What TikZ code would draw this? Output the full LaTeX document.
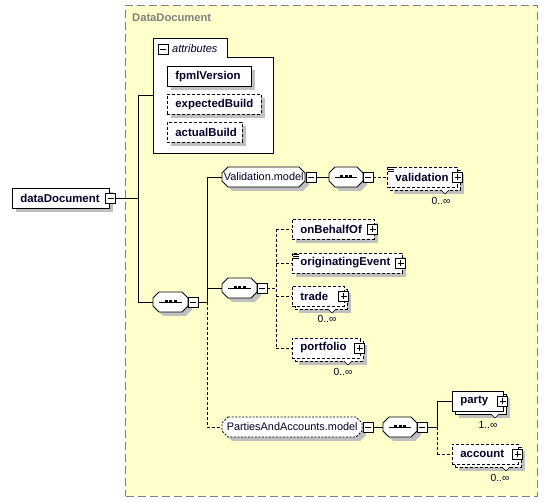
\documentclass[tikz,border=0pt]{standalone}
\usepackage{fontspec}
\setmainfont{Liberation Sans}
\usetikzlibrary{shadows}
\definecolor{grpfill}{RGB}{255,255,204}
\definecolor{grpline}{RGB}{128,128,128}
\definecolor{shd}{RGB}{192,192,192}
\definecolor{txt}{RGB}{0,0,40}
\newcommand\bx[2]{\makebox[#1][l]{#2}}
\newcommand\octo[5]{%
  \begin{scope}[shift={(4,4)}]
    \fill[shd] (#1+6,#2) -- (#3-6,#2) -- (#3,#2+6) -- (#3,#4-6) -- (#3-6,#4) -- (#1+6,#4) -- (#1,#4-6) -- (#1,#2+6) -- cycle;
  \end{scope}
  \draw[fill=white,line width=0.8pt,#5] (#1+6,#2) -- (#3-6,#2) -- (#3,#2+6) -- (#3,#4-6) -- (#3-6,#4) -- (#1+6,#4) -- (#1,#4-6) -- (#1,#2+6) -- cycle;}
\newcommand\seqicon[3]{%
  \draw[line width=0.8pt] (#1+6,#3) -- (#2-6,#3);
  \fill ({(#1+#2)/2-6},#3-1.5) rectangle +(3,3);
  \fill ({(#1+#2)/2-1.5},#3-1.5) rectangle +(3,3);
  \fill ({(#1+#2)/2+3},#3-1.5) rectangle +(3,3);}
\newcommand\simplemark[2]{%
  \foreach \d in {0,2,4} \draw[line width=0.6pt] (#1,#2+\d) -- (#1+6,#2+\d);}
\newcommand\notch[2]{%
  \draw[fill=white, line width=0.6pt] (#1-4,#2) -- (#1,#2+4) -- (#1+4,#2);}
\tikzset{
  conn/.style={line width=0.8pt},
  dconn/.style={line width=0.8pt, dash pattern=on 3pt off 2pt},
  box/.style={draw, line width=0.8pt, fill=white, minimum height=20pt, inner ysep=0pt, inner xsep=8pt, anchor=west, text=txt, font=\fontsize{11.4}{13}\selectfont\bfseries},
  optbox/.style={box, dash pattern=on 3pt off 2pt},
  shad/.style={drop shadow={shadow xshift=4pt, shadow yshift=-4pt, opacity=1, fill=shd}},
  plusb/.style={draw, fill=white, line width=0.9pt, minimum size=10pt, inner sep=0pt,
    path picture={\draw[line width=0.8pt] ([xshift=2pt]path picture bounding box.west) -- ([xshift=-2pt]path picture bounding box.east);
                  \draw[line width=0.8pt] ([yshift=-2pt]path picture bounding box.north) -- ([yshift=2pt]path picture bounding box.south);}},
  minusb/.style={draw, fill=white, line width=0.9pt, minimum size=10pt, inner sep=0pt,
    path picture={\draw[line width=0.8pt] ([xshift=2pt]path picture bounding box.west) -- ([xshift=-2pt]path picture bounding box.east);}},
  comp/.style={anchor=west, minimum height=20pt, inner sep=0pt, text=txt, font=\fontsize{10.9}{12}\selectfont},
  occ/.style={font=\fontsize{10.3}{12}\selectfont, text=txt, inner sep=0pt},
}
\begin{document}
\begin{tikzpicture}[x=1pt,y=-1pt]
\useasboundingbox (0,0) rectangle (547,502);
% group
\node[draw=grpline, fill=grpfill, line width=1pt, dash pattern=on 8pt off 4pt, minimum width=412pt, minimum height=491pt, anchor=north west, inner sep=0pt] (grp) at (125,5) {};
\node[anchor=west, text=grpline, font=\fontsize{11.2}{13}\selectfont\bfseries, inner sep=0pt] (grplbl) at (132,18) {DataDocument};

% attributes frame
\draw[fill=white, line width=0.8pt] (153,38) -- (227,38) -- (227,57) -- (273,57) -- (273,153) -- (153,153) -- cycle;
\node[anchor=north west, minimum width=120pt, minimum height=115pt, inner sep=0pt] (attrs) at (153,38) {};
\node[minusb] (attrs-m) at (163,49.5) {};
\node[anchor=west, inner sep=0pt, text=txt, font=\fontsize{11}{12}\selectfont\itshape] (attrlbl) at (172,48.5) {attributes};
\node[box, shad, minimum width=84pt] (fpml) at (167,76.5) {\bx{68pt}{fpmlVersion}};
\node[optbox, shad, minimum width=94pt] (expb) at (167,104.5) {\bx{78pt}{expectedBuild}};
\node[optbox, shad, minimum width=75pt] (actb) at (167,132.5) {\bx{59pt}{actualBuild}};

% root
\node[box, shad, minimum width=97pt] (ddoc) at (12,198) {\bx{81pt}{dataDocument}};
\node[minusb] (ddoc-m) at ([xshift=1pt]ddoc.east) {};

% compositor anchors
\node[comp, minimum width=35pt] (mseq) at (153,302) {};
\node[comp, minimum width=83pt] (vmodel) at (222,177) {};
\node[comp, minimum width=34pt] (vseq) at (329,177) {};
\node[comp, minimum width=35pt] (iseq) at (222,288) {};
\node[comp, minimum width=140pt] (paa) at (222,427) {};
\node[comp, minimum width=34pt] (pseq) at (383,427) {};

\coordinate (j1) at (138,198);
\coordinate (j2) at (207,302);
\coordinate (j3) at (276,288);
\coordinate (j4) at (437,427);

% validation (stacked, optional)
\node[optbox, shad, minimum width=70pt] (val-b) at (390,180) {};
\notch{445}{190}
\node[optbox, minimum width=70pt] (val) at (387,177) {\bx{54pt}{validation}};
\node[plusb] (val-p) at ([xshift=0pt]val.east) {};
\simplemark{387.5}{167}
\node[occ] (val-o) at (441,201) {0..∞};

\node[optbox, shad, minimum width=82pt] (obo) at (292,229.5) {\bx{66pt}{onBehalfOf}};
\node[plusb] (obo-p) at ([xshift=-2pt]obo.east) {};

\node[optbox, shad, minimum width=110pt] (orig) at (292,263) {\bx{94pt}{originatingEvent}};
\node[plusb] (orig-p) at ([xshift=-2pt]orig.east) {};
\simplemark{293}{254}

\node[optbox, shad, minimum width=52pt] (trade-b) at (295,299) {};
\notch{332}{309}
\node[optbox, minimum width=52pt] (trade) at (292,296) {\bx{36pt}{trade}};
\node[plusb] (trade-p) at ([xshift=-1pt]trade.east) {};
\node[occ] (trade-o) at (327,319) {0..∞};

\node[optbox, shad, minimum width=68pt] (port-b) at (295,351) {};
\notch{348}{361}
\node[optbox, minimum width=68pt] (port) at (292,348) {\bx{52pt}{portfolio}};
\node[plusb] (port-p) at ([xshift=-1pt]port.east) {};
\node[occ] (port-o) at (343,372) {0..∞};

\node[box, shad, minimum width=51pt] (party-b) at (455,404) {};
\notch{495}{414}
\node[box, minimum width=51pt] (party) at (452,401) {\bx{35pt}{party}};
\node[plusb] (party-p) at ([xshift=-1pt]party.east) {};
\node[occ] (party-o) at (488,425) {1..∞};

\node[optbox, shad, minimum width=66pt] (acct-b) at (455,457) {};
\notch{506}{467}
\node[optbox, minimum width=66pt] (acct) at (452,454) {\bx{50pt}{account}};
\node[plusb] (acct-p) at ([xshift=-1pt]acct.east) {};
\node[occ] (acct-o) at (500,478) {0..∞};

% connectors from root
\draw[conn] (ddoc-m.east) -- (j1);
\draw[conn] (attrs.west -| j1) -- (mseq.west -| j1);
\draw[conn] (attrs.west -| j1) -- (attrs.west);
\draw[conn] (mseq.west -| j1) -- (mseq.west);

% main sequence
\octo{153}{292}{188}{312}{}
\seqicon{153}{188}{302}
\node[minusb] (mseq-m) at (193,302) {};
\draw[conn] (mseq-m.east) -- (j2);
\draw[conn] (vmodel.west -| j2) -- (j2);
\draw[dconn] (j2) -- (paa.west -| j2);
\draw[conn] (vmodel.west -| j2) -- (vmodel.west);
\draw[conn] (iseq.west -| j2) -- (iseq.west);
\draw[dconn] (paa.west -| j2) -- (paa.west);

% validation model
\octo{222}{167}{305}{187}{}
\node[comp, minimum width=83pt] (vmodel-t) at (222,177) {Validation.model};
\node[minusb] (vmodel-m) at (311,177) {};
\draw[conn] (vmodel-m.east) -- (vseq.west);
\octo{329}{167}{363}{187}{}
\seqicon{329}{363}{177}
\node[minusb] (vseq-m) at (368,177) {};
\draw[dconn] (vseq-m.east) -- (val.west);

% inner sequence
\octo{222}{278}{257}{298}{}
\seqicon{222}{257}{288}
\node[minusb] (iseq-m) at (262,288) {};
\draw[dconn] (iseq-m.east) -- (j3);
\draw[dconn] (obo.west -| j3) -- (port.west -| j3);
\draw[dconn] (obo.west -| j3) -- (obo.west);
\draw[dconn] (orig.west -| j3) -- (orig.west);
\draw[dconn] (trade.west -| j3) -- (trade.west);
\draw[dconn] (port.west -| j3) -- (port.west);

% parties and accounts
\octo{222}{417}{362}{437}{dash pattern=on 2pt off 1.5pt}
\node[comp, minimum width=140pt] (paa-t) at (222,427) {PartiesAndAccounts.model};
\node[minusb] (paa-m) at (368,427) {};
\draw[conn] (paa-m.east) -- (pseq.west);
\octo{383}{417}{417}{437}{}
\seqicon{383}{417}{427}
\node[minusb] (pseq-m) at (422,427) {};
\draw[conn] (pseq-m.east) -- (j4);
\draw[conn] (party.west -| j4) -- (j4);
\draw[dconn] (j4) -- (acct.west -| j4);
\draw[conn] (party.west -| j4) -- (party.west);
\draw[dconn] (acct.west -| j4) -- (acct.west);
\end{tikzpicture}
\end{document}
